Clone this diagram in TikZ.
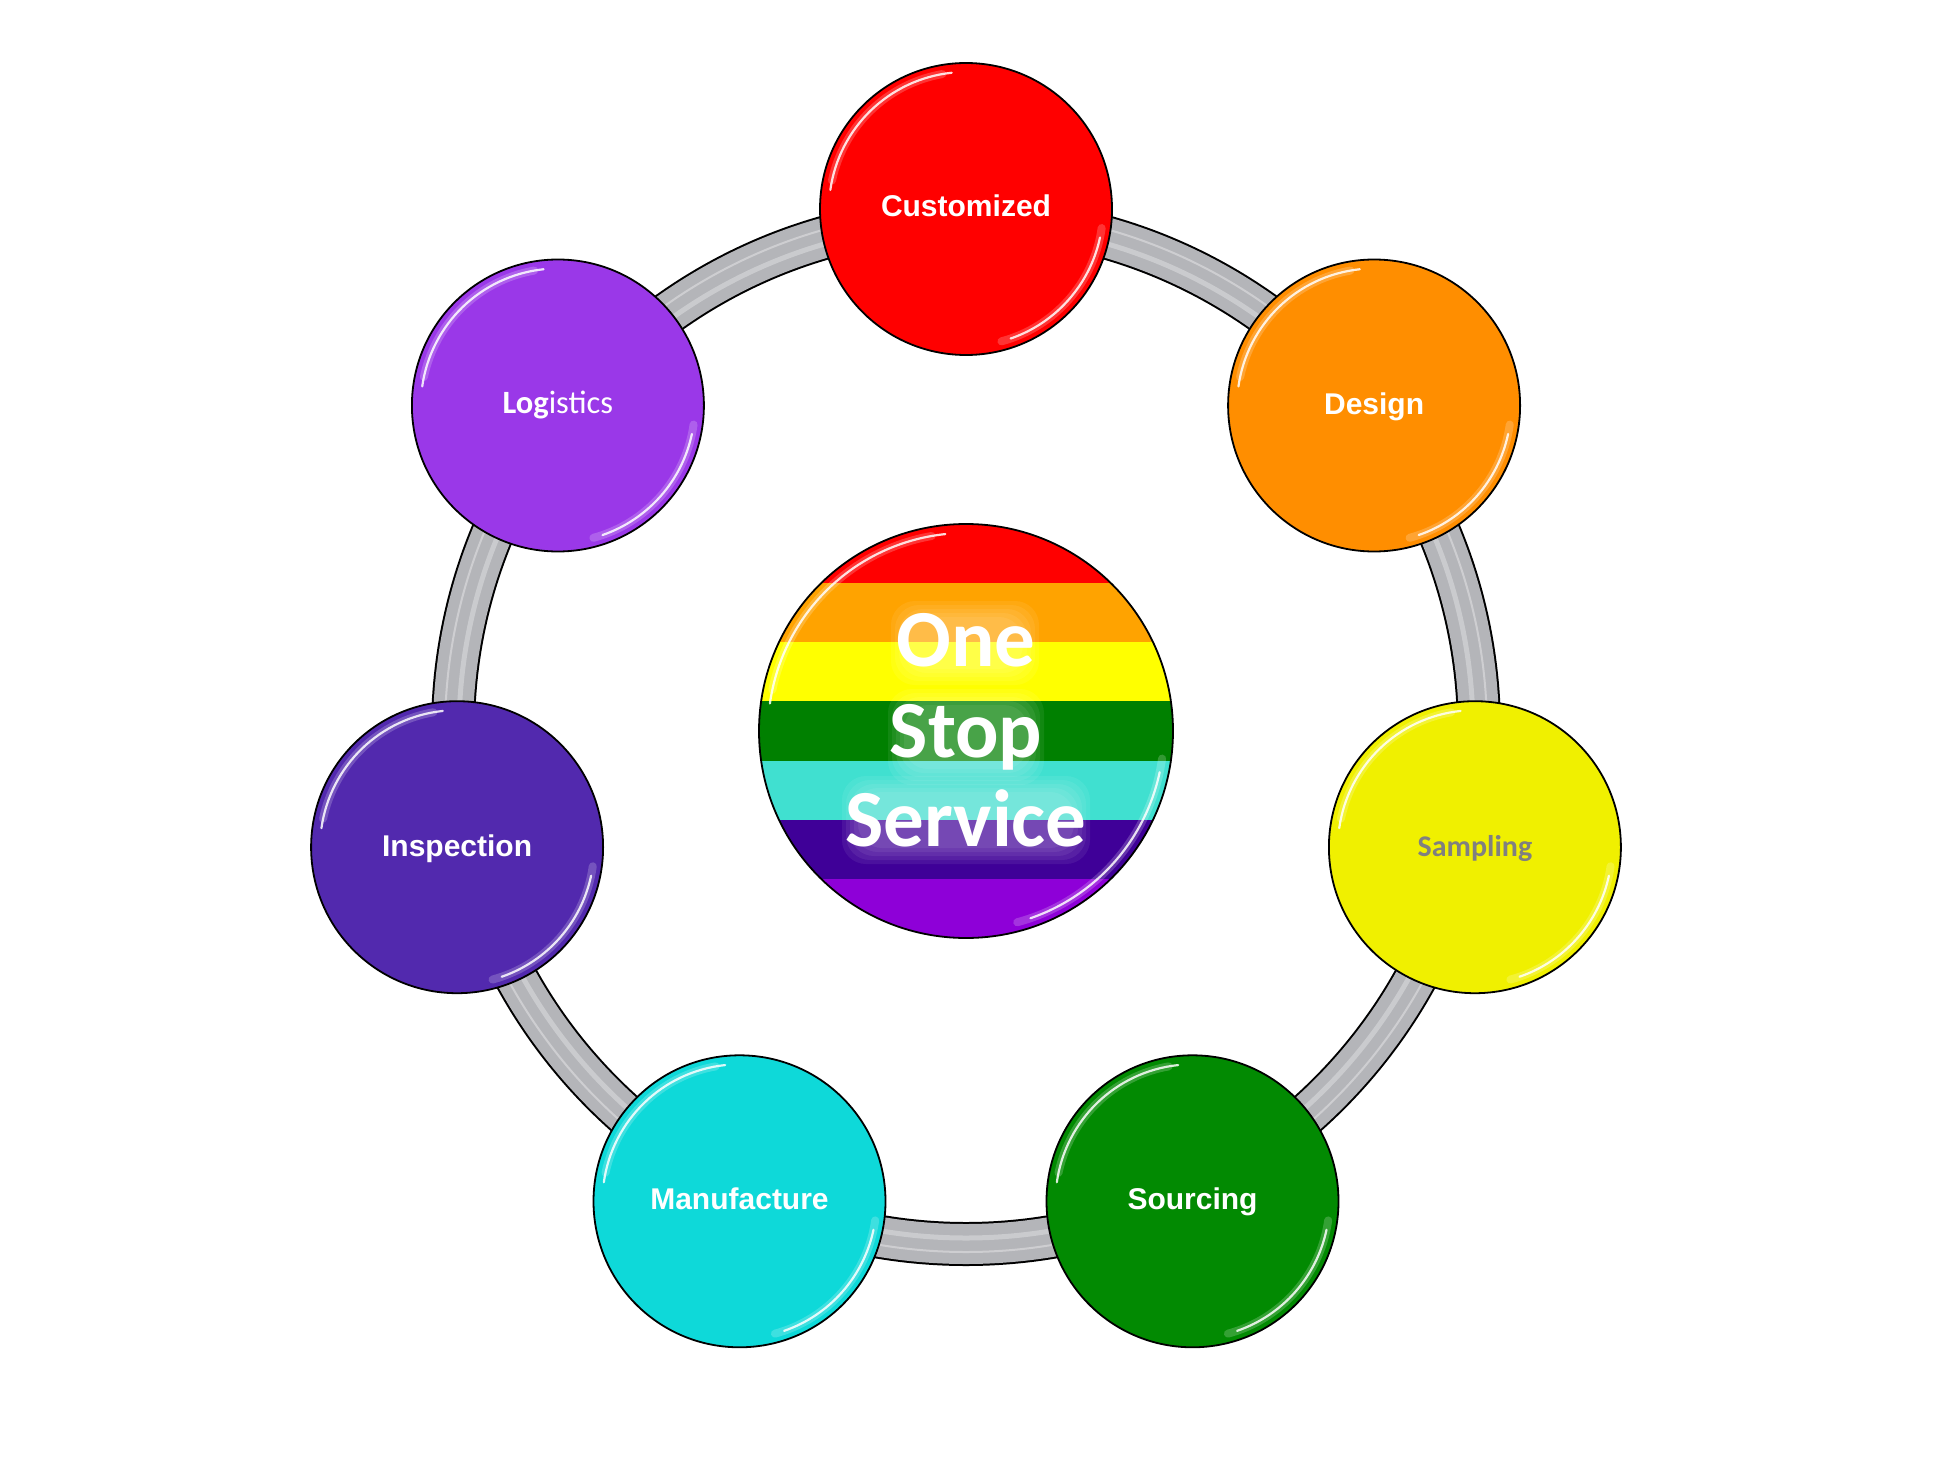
\documentclass[tikz,border=0pt]{standalone}
\usepackage{fontspec}
\setmainfont{Liberation Sans}
\newfontfamily\calfont{Carlito}
\usetikzlibrary{calc}
\definecolor{cRed}{HTML}{FF0000}
\definecolor{cOrange}{HTML}{FF8E00}
\definecolor{cYellow}{HTML}{F0F000}
\definecolor{cGreen}{HTML}{028A02}
\definecolor{cCyan}{HTML}{0ED9D9}
\definecolor{cIndigo}{HTML}{5229AE}
\definecolor{cViolet}{HTML}{9A38E8}
\definecolor{ringGray}{HTML}{B4B5B9}
\definecolor{sRed}{HTML}{FF0000}
\definecolor{sOrange}{HTML}{FFA300}
\definecolor{sYellow}{HTML}{FFFF00}
\definecolor{sGreen}{HTML}{008000}
\definecolor{sTurq}{HTML}{40E0D0}
\definecolor{sIndigo}{HTML}{3F0098}
\definecolor{sViolet}{HTML}{8E00D8}
\definecolor{sampGray}{HTML}{808080}
\newcommand{\glossarcs}[2]{%
  \foreach \ga/\gb in {-100/-168, 8/75} {
    \draw[white, line width=8pt, opacity=0.2, line cap=round]
      (#1.center) ++(\ga:{#2-9}) arc[start angle=\ga, end angle=\gb, radius={#2-9}];
    \draw[white, line width=2.2pt, opacity=0.85, line cap=round]
      (#1.center) ++(\ga+4:{#2-9}) arc[start angle=\ga+4, end angle=\gb-4, radius={#2-9}];
  }%
}
\newcommand{\glowbox}[4]{% center x, center y, half width, half height
  \foreach \gs in {14,10,6,2,-2} {
    \fill[white, opacity=0.065, rounded corners=24pt]
      ({#1-#3-\gs},{#2-#4-\gs}) rectangle ({#1+#3+\gs},{#2+#4+\gs});
  }%
}
\begin{document}
\begin{tikzpicture}[x=1pt,y=-1pt,
  bub/.style={circle, draw=black, line width=1.8pt, minimum size=292pt, inner sep=0pt},
  lab/.style={anchor=base, text=white, inner sep=0pt, font=\fontsize{30}{34}\selectfont\bfseries},
  hubtxt/.style={anchor=base, inner sep=0pt, text=white, font=\calfont\fontsize{81}{90}\selectfont\bfseries},
]
\useasboundingbox[fill=white] (0,0) rectangle (1947,1466);
\coordinate (O) at (966,731);
% ring tube
\draw[line width=44pt, black] (O) circle[radius=513];
\draw[line width=40pt, ringGray] (O) circle[radius=513];
\draw[line width=5pt, white, opacity=0.3] (O) circle[radius=507];
\draw[line width=2pt, white, opacity=0.35] (O) circle[radius=521];

% bubbles
\node[bub, fill=cRed]    (cust)  at (966,209) {};
\node[bub, fill=cOrange] (des)   at (1374.1,405.5) {};
\node[bub, fill=cYellow] (samp)  at (1474.9,847.2) {};
\node[bub, fill=cGreen]  (sour)  at (1192.5,1201.3) {};
\node[bub, fill=cCyan]   (manu)  at (739.5,1201.3) {};
\node[bub, fill=cIndigo] (insp)  at (457.1,847.2) {};
\node[bub, fill=cViolet] (logi)  at (557.9,405.5) {};
\foreach \n in {cust,des,samp,sour,manu,insp,logi} {\glossarcs{\n}{146}}

% labels
\node[lab] (tcust) at (966,217) {Customized};
\node[lab] (tdes)  at (1374.1,414) {Design};
\node[lab, text=sampGray, font=\calfont\fontsize{30}{34}\selectfont\bfseries] (tsamp) at (1474.9,856) {Sampling};
\node[lab] (tsour) at (1192.5,1209.5) {Sourcing};
\node[lab] (tmanu) at (739.5,1209.5) {Manufacture};
\node[lab] (tinsp) at (457.1,856) {Inspection};
\node[lab, font=\calfont\fontsize{32.5}{36}\selectfont] (tlogi) at (557.9,413) {{\bfseries Log}istics};

% central striped circle
\begin{scope}
  \clip (O) circle[radius=207];
  \fill[sRed]    (740,510) rectangle (1190,583.1);
  \fill[sOrange] (740,583.1) rectangle (1190,642.3);
  \fill[sYellow] (740,642.3) rectangle (1190,701.4);
  \fill[sGreen]  (740,701.4) rectangle (1190,760.6);
  \fill[sTurq]   (740,760.6) rectangle (1190,819.7);
  \fill[sIndigo] (740,819.7) rectangle (1190,878.9);
  \fill[sViolet] (740,878.9) rectangle (1190,950);
  % soft glow behind the words
  \glowbox{965}{643}{60}{28}
  \glowbox{966}{737}{64}{34}
  \glowbox{966}{820}{110}{30}
\end{scope}
\node[circle, draw=black, line width=1.8pt, minimum size=414pt, inner sep=0pt] (hub) at (O) {};
\glossarcs{hub}{207}

\node[hubtxt] (tOne)  at (966,666) {One};
\node[hubtxt] (tStop) at (966,757) {Stop};
\node[hubtxt] (tServ) at (966,846) {Service};
\end{tikzpicture}
\end{document}
